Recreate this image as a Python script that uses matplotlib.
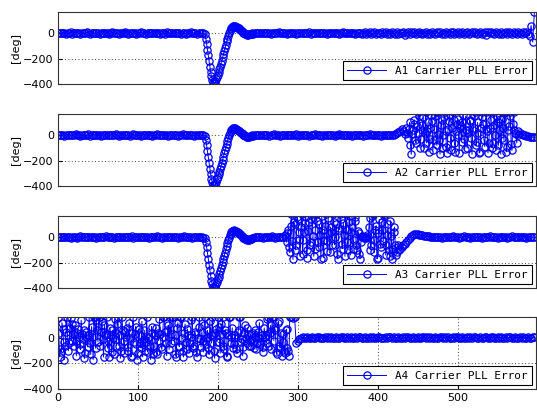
import numpy as np
import matplotlib.pyplot as plt

# sample times: every 2nd epoch, every epoch in the dip and the noisy stretches
x1 = np.concatenate([np.arange(0, 184, 2), np.arange(184, 244), np.arange(244, 598, 2)])
x2 = np.concatenate([np.arange(0, 184, 2), np.arange(184, 244), np.arange(244, 436, 2),
                     np.arange(436, 576), np.arange(576, 598, 2)])
x3 = np.concatenate([np.arange(0, 184, 2), np.arange(184, 244), np.arange(244, 284, 2),
                     np.arange(284, 428), np.arange(428, 598, 2)])
x4 = np.concatenate([np.arange(0, 290), np.arange(290, 598, 2)])

# ---- A1 ----
a1_flat1 = [0, 3, -2, 5, 1, -4, 2, 0, 6, -3,
            2, -1, 4, 0, -5, 3, 1, -2, 8, 0,
            -3, 2, 5, -1, 0, 4, -6, 1, 3, -2,
            0, 5, -3, 2, 7, -1, 0, 3, -4, 1,
            2, -2, 6, 0, -3, 4, 1, -1, 3, -5,
            0, 2, 9, -2, 1, -4, 3, 0, 5, -1,
            -2, 4, 0, 3, -6, 1, 2, -3, 6, 0,
            3, -1, 0, 4, -2, 5, 1, -3, 2, 0,
            -4, 3, 1, 6, -1, 0, 2, -5, 4, 1,
            0, -2]
a1_dive = [-10, -45, -85, -130, -175, -220, -265, -305, -340, -368,
           -385, -393, -390, -378, -362, -345, -325, -305, -285, -262,
           -240, -215, -190, -165, -140, -115, -90, -65, -42, -20,
           0, 18, 32, 42, 50, 55, 56, 55, 52, 48,
           45, 42, 38, 33, 28, 22, 16, 10, 5, 0,
           -4, -8, -10, -12, -12, -10, -8, -6, -4, -2]
a1_flat2 = [-3, 0, 4, 2, -1, 3, 0, -2, 5, 1,
            0, -4, 2, 3, -1, 0, 6, -2, 1, 0,
            3, -3, 0, 2, 5, -1, 0, -5, 2, 4,
            1, 0, -2, 3, 0, 6, -3, 1, 2, -1,
            0, 4, -2, 1, 3, 0, -4, 2, 5, 0,
            -1, 2, 0, 3, -3, 1, 7, 0, -2, 4,
            2, -1, 0, 5, -3, 2, 1, 0, -6, 3,
            8, -6, 3, 10, -4, 0, 12, -8, 5, 2,
            -10, 6, 0, 11, -5, 3, -9, 7, 1, -3,
            12, -7, 4, 0, 9, -11, 2, 6, -4, 10,
            -2, 8, -9, 3, 12, 0, -6, 5, 9, -8,
            4, -3, 11, 2, -10, 7, 0, 13, -5, 3,
            -8, 10, 1, -4, 12, 6, -9, 2, 8, -6,
            5, 11, -3, 0, 9, -10, 4, 7, -2, 12,
            -7, 3, 10, -5, 1, 8, -11, 6, 0, 9,
            2, -8, 12, 4, -3, 10, -6, 1, 11, -4,
            7, 0, -9, 13, 3, -5, 8, 2, -10, 6,
            1, 9, -4]
a1_end = [-20, 60, -70, 165]
a1 = a1_flat1 + a1_dive + a1_flat2 + a1_end

# ---- A2 ----
a2_flat1 = [2, -1, 0, 4, -3, 1, 5, 0, -2, 3,
            0, 6, -1, 2, -4, 0, 3, 1, -2, 7,
            -3, 0, 2, 4, -1, 3, 0, -5, 1, 2,
            5, -2, 0, 3, 1, -1, 8, 0, -3, 2,
            1, 4, -2, 0, 3, -4, 2, 6, 0, -1,
            3, 0, -3, 5, 1, 2, -2, 0, 4, -5,
            0, 2, 7, -1, 3, 0, -2, 4, 1, -3,
            2, 5, 0, -1, 3, -4, 1, 0, 6, -2,
            0, 3, -1, 2, 4, -3, 0, 1, -2, 5,
            -1, 2]
a2_dive = [-8, -40, -80, -125, -170, -218, -262, -305, -342, -372,
           -390, -398, -395, -382, -366, -348, -328, -308, -287, -265,
           -242, -218, -193, -168, -143, -118, -93, -68, -45, -22,
           -2, 16, 30, 40, 48, 54, 56, 55, 52, 48,
           44, 40, 36, 31, 26, 20, 14, 8, 3, -2,
           -6, -10, -13, -14, -13, -11, -9, -7, -4, -2]
a2_flat2 = [-4, 0, 3, -1, 2, 5, 0, -2, 1, 4,
            -3, 0, 2, 6, -1, 1, 0, -4, 3, 2,
            0, 5, -2, 1, -1, 3, 0, 7, -3, 2,
            1, -2, 4, 0, 2, -5, 3, 1, 0, 6,
            -1, 2, 0, -3, 4, 1, 5, -2, 0, 3,
            2, -4, 1, 0, 6, -1, 3, 0, -2, 4,
            0, 3, -3, 2, 1, -1, 5, 0, 2, -4,
            3, 0, 1, 6, -2, 0, 4, -1, 2, 0,
            -3, 5, 1, 0, 2, -2, 4, 3]
a2_ramp = [5, 10, 15, 25, 35, 50, 30, 10]
a2_noise = [60, 20, -20, 50, 100, -80, -150, 10, 40, 90, 120, -40, -60, 70, 20, 185, 150, -100, -30, 40,
            80, 140, -100, 20, 185, -60, 30, 100, -130, -30, 60, 160, 110, -120, -40, 50, 150, 185, -80, 10,
            185, -40, -150, 80, 120, -100, 0, 140, 185, 30, -90, -140, 50, 110, 160, -20, -120, 60, 185, 120,
            -60, -130, 30, 90, 130, 0, -140, 60, 70, -50, 100, 160, -30, -110, 150, 40, -100, 20, 40, 120,
            110, -20, -150, 40, 60, 150, 185, -80, -50, 100, 20, -140, -130, 60, 140, 185, 90, -40, -90, 50,
            185, 30, -140, -60, 60, 185, 120, -100, -60, 80, 185, 0, -120, 150, 100, -80, 40, 130, -150, -20,
            130, 60, -40, 185, 185, -130, -90, 40, 70, 185, 150, -70, -120, 90, 185, 40, 20, 10, -60, 0]
a2_flat3 = [30, 20, 10, 5, 0, -5, -10, -12, -15, -15, -18]
a2 = a2_flat1 + a2_dive + a2_flat2 + a2_ramp + a2_noise + a2_flat3

# ---- A3 ----
a3_flat1 = [0, -2, 3, 1, 5, -1, 0, 4, -3, 2,
            1, 0, -4, 3, 6, 0, -1, 2, 0, 5,
            -2, 3, 1, 0, -5, 2, 4, -1, 0, 3,
            7, -2, 0, 1, 3, -3, 2, 0, 5, -1,
            0, 4, 2, -2, 1, 0, 6, -4, 3, 1,
            -1, 0, 3, 5, -2, 2, 0, -3, 4, 0,
            2, -1, 6, 0, 1, -4, 3, 2, 0, -2,
            5, 0, -1, 3, 2, -3, 0, 4, 1, 7,
            -2, 0, 3, 1, -4, 2, 5, 0, -1, 3,
            0, -3]
a3_dive = [-5, -38, -78, -122, -168, -215, -260, -303, -342, -372,
           -392, -402, -398, -386, -370, -352, -332, -311, -290, -268,
           -245, -221, -196, -171, -146, -121, -96, -71, -47, -24,
           -3, 15, 29, 40, 48, 52, 53, 52, 50, 47,
           44, 40, 35, 29, 22, 15, 8, 2, -4, -9,
           -13, -16, -18, -20, -20, -19, -17, -14, -11, -8]
a3_flat2 = [-5, 0, 3, -2, 5, 0, -3, 2, 0, 4,
            -2, 1, 6, 0, -4, 2, 0, 3, -1, 5]
a3_noise = [20, 0, -40, 30, 60, -80, -120, 90, 185, -30, -175, 120, 100, -100, -60, 160, 140, 40, -20, -150,
            80, 185, -130, -20, 40, 110, 160, -160, -100, 50, 120, -60, -40, 140, 185, 10, -150, -90, 60, 185,
            130, -40, -80, 100, 20, -170, 170, 60, -160, -20, 90, 185, -30, -110, 150, 30, -120, 80, 40, -60,
            185, 120, -60, 0, 100, -130, -170, 70, 60, 185, 140, -50, -90, 110, 20, -150, 185, 60, -40, -100,
            120, 170, -140, 40, 80, -90, -20, 130, 160, -60, -100, 50, 30, -130, -170, -40, 10, 5, 0, -5,
            5, 0, -10, 20, 0, 80, 150, -100, -60, 170, 185, -20, -120, 60, 90, -170, -160, 30, 140, -50,
            -80, 120, 60, -30, 170, 185, -140, -60, 20, 100, -100, -150, 130, 10, -170, -90, 40, 80, -60, -140,
            -120, -60, -80, -100]
a3_recov = [-90, -80, -65, -50, -35, -20, -5, 10, 20, 25,
            25, 22, 20, 18, 15, 12, 10, 8, 6, 4, 2, 0]
a3_flat3 = [2, -1, 0, 4, -3, 1, 5, 0, -2, 3,
            0, 6, -2, 1, 3, -4, 0, 2, 7, -1,
            3, 0, -3, 2, 5, 1, -1, 0, 4, -5,
            1, 3, 0, -2, 6, 2, -1, 4, 0, -3,
            5, 0, 2, -1, 3, -4, 1, 0, 6, 2,
            -2, 4, 0, 3, -1, 1, 5, -3, 0, 2,
            4, -1, 0]
a3 = a3_flat1 + a3_dive + a3_flat2 + a3_noise + a3_recov + a3_flat3

# ---- A4 ----
a4_noise = [160, 40, -150, -90, -110, 120, 70, -30, -170, -60, 50, 165, 20, -100, -40, 80, 160, -20, 110, 30,
            -60, 100, -20, -140, 40, 70, 10, -50, -90, 140, 30, -10, 60, -160, -120, 50, 0, -70, 20, 165,
            -40, -130, 90, 10, -170, 165, 165, -80, 140, 60, -30, 165, 165, -60, 50, 130, -10, -150, 100, 20,
            30, 165, -80, -20, -150, 80, 20, -110, 60, 0, -130, 150, 40, -60, 110, 165, -60, 20, -160, -100,
            165, 60, -20, -120, 50, 10, 80, -70, -100, 120, 0, -150, -140, 40, 165, -30, 30, 90, -50, -170,
            -120, 70, 20, -40, -80, 130, -150, -10, 60, -100, -30, 165, -110, 0, 10, -60, -170, 90, 40, -130,
            -60, 20, 80, -110, -130, 40, -20, 150, 30, -70, -90, 10, 165, 165, 50, -40, -140, 60, 100, -90,
            165, 30, -40, 165, 165, -20, 20, -130, -150, 80, 120, -60, -70, 165, 165, 0, -100, -150, 40, 110,
            -30, -90, 70, 20, -120, -40, 10, 140, 165, -80, -60, 50, 30, -110, -150, 0, 90, 165, -10, -70,
            50, -20, -110, 100, 165, -50, 0, 60, -80, -130, 130, 20, -40, 165, 20, -100, -160, 40, 70, -30,
            165, 90, -30, -120, 110, 30, 165, -60, -90, 60, 40, -150, -140, 20, 165, 165, 10, -40, 80, -80,
            -50, 10, 20, -90, -120, 50, 60, 165, 165, -30, -10, -140, -70, 40, 100, 0, -40, 80, 30, -60,
            -20, 30, -60, -10, 40, -80, 10, 60, -90, -40, 50, 0, 120, -50, -30, 20, -110, -70, 80, 10,
            20, -40, 150, 165, -60, 40, 100, -90, 165, 165, -20, 80, 60, -110, -130, 120, 130, -60, -80, 40,
            -140, -30, 30, -100, -120, 60, 70, -80, -100, -140]
a4_spike = [165, 165, 160, 165, -40, -25, -10]
a4_flat = [0, 5, 2, -1, 6, 3, 0, 8, 1, -2,
           4, 7, 0, 3, -3, 5, 2, 9, 0, 4,
           1, -2, 6, 3, 0, 5, 8, -1, 2, 4,
           0, 7, 3, -3, 5, 1, 4, 9, 0, 2,
           6, -1, 3, 5, 0, 8, 2, -2, 4, 7,
           1, 3, 0, 6, -2, 4, 9, 1, 5, 0,
           3, 7, -1, 2, 6, 0, 4, 8, 1, -3,
           5, 2, 0, 7, 3, -1, 6, 4, 0, 9,
           2, 5, -2, 3, 8, 1, 0, 6, 4, -1,
           7, 2, 5, 0, 3, 9, -2, 4, 6, 1,
           0, 8, 3, -1, 5, 2, 7, 0, 4, 10,
           1, -2, 6, 3, 0, 5, 8, 2, -1, 4,
           7, 0, 3, 9, 1, 5, -3, 2, 6, 0,
           4, 8, 1, -1, 5, 3, 0, 7, 2, 6,
           0, 3, 9, 1, -2, 5, 4]
a4 = a4_noise + a4_spike + a4_flat

series = [a1, a2, a3, a4]
times = [x1, x2, x3, x4]
names = ['A1 Carrier PLL Error', 'A2 Carrier PLL Error',
         'A3 Carrier PLL Error', 'A4 Carrier PLL Error']
yticks = [-400, -200, 0]
xticks = [0, 100, 200, 300, 400, 500]

plt.rcParams['font.family'] = 'DejaVu Sans'
fig = plt.figure(figsize=(5.37, 4.08), dpi=100)
bottoms = [0.794, 0.544, 0.294, 0.047]

for k in range(4):
    ax = fig.add_axes([0.108, bottoms[k], 0.890, 0.177])
    ax.plot(times[k], series[k], color='b', linewidth=0.7, marker='o', markersize=5.2,
            markerfacecolor='none', markeredgewidth=0.9, label=names[k])
    ax.set_xlim(0, 598)
    ax.set_ylim(-400, 168)
    ax.set_yticks(yticks)
    ax.tick_params(direction='in', length=3, labelsize=8, pad=3)
    ax.set_ylabel('[deg]', fontsize=8, labelpad=2)
    for s in ax.spines.values():
        s.set_linewidth(0.8)
        s.set_color('#333333')
    if k < 3:
        ax.set_xticks([])
        ax.grid(axis='y', linestyle=(0, (1, 3)), color='black', linewidth=0.6)
    else:
        ax.set_xticks(xticks)
        ax.grid(True, linestyle=(0, (1, 3)), color='black', linewidth=0.6)
    leg = ax.legend(loc='lower right', prop={'family': 'DejaVu Sans Mono', 'size': 7.9},
                    fancybox=False, framealpha=1, edgecolor='black',
                    handlelength=3.6, borderpad=0.4, borderaxespad=0.35)
    leg.get_frame().set_linewidth(0.8)

fig.savefig('out.png', dpi=100)
